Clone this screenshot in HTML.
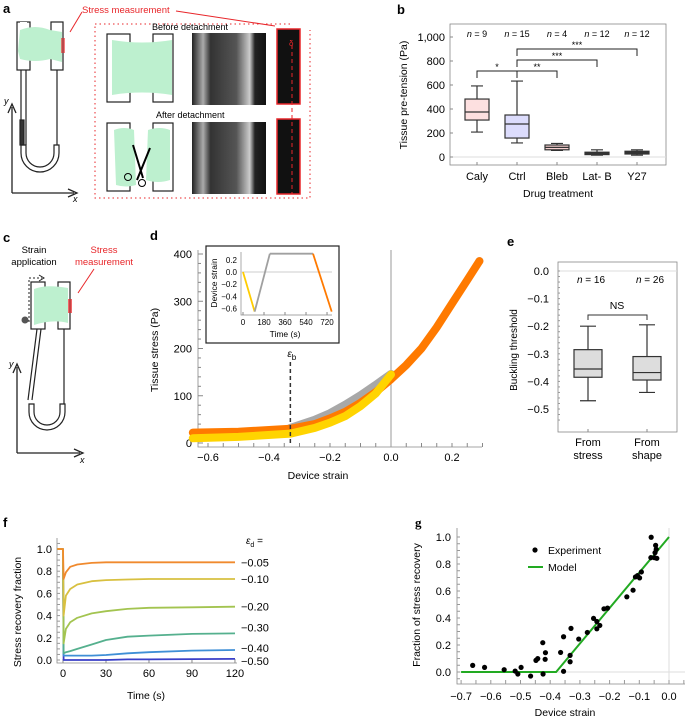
<!DOCTYPE html>
<html><head><meta charset="utf-8"><style>
html,body{margin:0;padding:0;background:#fff}
svg{display:block;font-family:"Liberation Sans",sans-serif}
</style></head><body>
<svg id="fig" width="685" height="718" viewBox="0 0 685 718">
<defs>
<linearGradient id="photo" x1="0" x2="1"><stop offset="0" stop-color="#222"/><stop offset="0.15" stop-color="#aaa"/><stop offset="0.25" stop-color="#333"/><stop offset="0.6" stop-color="#555"/><stop offset="0.78" stop-color="#ccc"/><stop offset="0.85" stop-color="#222"/><stop offset="1" stop-color="#111"/></linearGradient>
</defs>
<!-- Panel a -->
<g>
<text x="3" y="13" font-weight="bold" font-size="13">a</text>
<text x="82" y="13" font-size="9.5" fill="#e8262a">Stress measurement</text>
<line x1="176" y1="11" x2="275" y2="26" stroke="#e8262a" stroke-width="1"/>
<line x1="82" y1="12" x2="70" y2="32" stroke="#e8262a" stroke-width="1"/>
<g fill="none" stroke="#222" stroke-width="1.2">
<rect x="17" y="22" width="13" height="48"/><rect x="51" y="22" width="12" height="48"/>
<path d="M20 22 h7 v8 h-7z" fill="#fff" stroke="none"/>
<line x1="21" y1="70" x2="21" y2="145"/><line x1="26" y1="70" x2="26" y2="145"/><line x1="57" y1="70" x2="57" y2="145"/>
<rect x="20" y="120" width="4" height="25" fill="#333"/>
<path d="M21 145 v8 a19 19 0 0 0 38 0 v-8 h-5 v8 a14 14 0 0 1 -28 0 v-8z"/>
</g>
<path d="M20 30 q15 -6 30 0 l12 2 v30 l-12 -3 q-15 4 -30 0 l-2 -8z" fill="#bdf0cf"/>
<rect x="61" y="38" width="4" height="15" fill="#e8262a" opacity="0.6"/>
<path d="M12 193 V107 M8 113 L12 104 L16 113 M12 193 H74 M68 189 L77 193 L68 197" fill="none" stroke="#222" stroke-width="1.3"/>
<text x="4" y="104" font-size="9" font-style="italic">y</text>
<text x="73" y="202" font-size="9" font-style="italic">x</text>
<rect x="95" y="24" width="215" height="174" fill="none" stroke="#e8262a" stroke-dasharray="1.5,3"/>
<rect x="290" y="20" width="22" height="10" fill="#fff"/>
<text x="152" y="30" font-size="9">Before detachment</text>
<text x="156" y="118" font-size="9">After detachment</text>
<g fill="none" stroke="#222" stroke-width="1.2">
<rect x="107" y="34" width="23" height="68"/><rect x="153" y="34" width="20" height="68"/>
<rect x="107" y="123" width="23" height="68"/><rect x="153" y="123" width="20" height="68"/>
</g>
<path d="M112 40 q30 5 60 0 v55 q-30 -5 -60 0z" fill="#bdf0cf"/>
<path d="M114 130 q10 -4 20 0 l2 55 q-10 3 -20 0z M148 130 q12 -4 22 0 v50 q-12 4 -24 0z" fill="#bdf0cf"/>
<path d="M133 145 L143 178 M150 148 L137 180" stroke="#000" stroke-width="2"/>
<circle cx="128" cy="177" r="3.5" fill="none" stroke="#000"/><circle cx="142" cy="183" r="3.5" fill="none" stroke="#000"/>
<rect x="192" y="33" width="74" height="72" fill="url(#photo)"/>
<rect x="192" y="122" width="74" height="72" fill="url(#photo)"/>
<rect x="277" y="29" width="23" height="75" fill="#111" stroke="#e8262a" stroke-width="1.5"/>
<rect x="277" y="119" width="23" height="75" fill="#111" stroke="#e8262a" stroke-width="1.5"/>
<line x1="292" y1="45" x2="292" y2="194" stroke="#e8262a" stroke-dasharray="4,3"/>
<text x="289" y="46" font-size="8" fill="#e8262a">δ</text>
</g>

<!-- Panel b -->
<g>
<text x="397" y="14" font-weight="bold" font-size="13">b</text>
<rect x="450" y="24" width="216" height="141" fill="none" stroke="#888" stroke-width="0.8"/>
<line x1="450" y1="157" x2="666" y2="157" stroke="#ddd"/>
<text transform="translate(407,95) rotate(-90)" text-anchor="middle" font-size="10.5">Tissue pre-tension (Pa)</text>
<text x="558" y="197" text-anchor="middle" font-size="10.5">Drug treatment</text>
<g id="gb"></g>
</g>

<!-- Panel c -->
<g>
<text x="3" y="242" font-weight="bold" font-size="13">c</text>
<text x="34" y="253" text-anchor="middle" font-size="9.5"><tspan x="34">Strain</tspan><tspan x="34" dy="12">application</tspan></text>
<text x="104" y="253" text-anchor="middle" font-size="9.5" fill="#e8262a"><tspan x="104">Stress</tspan><tspan x="104" dy="12">measurement</tspan></text>
<line x1="94" y1="269" x2="78" y2="293" stroke="#e8262a"/>
<path d="M29 322 V278 H42" fill="none" stroke="#222" stroke-dasharray="2,2"/>
<path d="M39 275 L44 278 L39 281" fill="none" stroke="#222"/>
<g fill="none" stroke="#222" stroke-width="1.2">
<rect x="31" y="282" width="14" height="47"/><rect x="58" y="282" width="12" height="47"/>
<path d="M37 329 L28 400 M41 329 L32 400 M64 329 V404"/>
<path d="M29 404 v8 a18 18 0 0 0 36 0 v-8 h-5 v8 a13 13 0 0 1 -26 0 v-8z"/>
</g>
<path d="M34 289 q12 -5 34 -1 v35 q-15 -4 -34 2z" fill="#bdf0cf"/>
<rect x="68" y="299" width="4" height="14" fill="#e8262a" opacity="0.7"/>
<circle cx="25" cy="320" r="3.5" fill="#555"/>
<path d="M17 453 V367 M13 373 L17 364 L21 373 M17 453 H80 M74 449 L83 453 L74 457" fill="none" stroke="#222" stroke-width="1.3"/>
<text x="9" y="367" font-size="9" font-style="italic">y</text>
<text x="80" y="463" font-size="9" font-style="italic">x</text>
</g>

<!-- Panel d -->
<g>
<text x="150" y="240" font-weight="bold" font-size="13">d</text>
<text transform="translate(158,350) rotate(-90)" text-anchor="middle" font-size="10.5">Tissue stress (Pa)</text>
<text x="318" y="479" text-anchor="middle" font-size="10.5">Device strain</text>
<g id="gd"></g>
</g>

<!-- Panel e -->
<g>
<text x="507" y="246" font-weight="bold" font-size="13">e</text>
<rect x="558" y="262" width="119" height="170" fill="none" stroke="#888" stroke-width="0.8"/>
<text transform="translate(517,350) rotate(-90)" text-anchor="middle" font-size="10">Buckling threshold</text>
<g id="ge"></g>
</g>

<!-- Panel f -->
<g>
<text x="3" y="527" font-weight="bold" font-size="13">f</text>
<text transform="translate(21,612) rotate(-90)" text-anchor="middle" font-size="10.5">Stress recovery fraction</text>
<text x="146" y="699" text-anchor="middle" font-size="10.5">Time (s)</text>
<text x="246" y="544" font-size="10"><tspan font-style="italic">ε</tspan><tspan font-size="7" dy="3">d</tspan><tspan dy="-3"> =</tspan></text>
<g id="gf"></g>
</g>

<!-- Panel g -->
<g>
<text x="415" y="527" font-weight="bold" font-size="13" font-family="Liberation Serif,serif">g</text>
<text transform="translate(420,605) rotate(-90)" text-anchor="middle" font-size="10.5">Fraction of stress recovery</text>
<text x="565" y="716" text-anchor="middle" font-size="10.5">Device strain</text>
<circle cx="535" cy="550" r="2.6" fill="#000"/>
<text x="548" y="554" font-size="10.5">Experiment</text>
<line x1="528" y1="567" x2="543" y2="567" stroke="#22aa22" stroke-width="2"/>
<text x="548" y="571" font-size="10.5">Model</text>
<g id="gg"></g>
</g>
</svg>
<script>
// ---- Panel b data ----
const bCats = ['Caly','Ctrl','Bleb','Lat- B','Y27'];
const bN = ['9','15','4','12','12'];
const bWhiskLo = [208,117,55,15,15];
const bQ1 = [308,158,60,20,25];
const bMed = [375,275,80,30,40];
const bQ3 = [483,350,100,40,48];
const bWhiskHi = [592,633,113,60,60];
const bTicks = [0,200,400,600,800,1000];
const bTickLabels = ['0','200','400','600','800','1,000'];
// ---- Panel d data ----
const dOrangeX = [-0.65,-0.5,-0.33,-0.25,-0.2,-0.15,-0.1,-0.05,0,0.05,0.1,0.15,0.2,0.25,0.29];
const dOrangeY = [22,24,30,40,52,66,85,108,135,165,200,245,295,345,385];
const dYellowX = [-0.65,-0.5,-0.33,-0.25,-0.2,-0.15,-0.1,-0.05,0];
const dYellowY = [10,13,20,32,43,57,78,105,145];
const dGrayX = [-0.33,-0.25,-0.2,-0.15,-0.1,-0.05,0];
const dGrayY = [31,48,62,80,100,122,145];
const dBuckle = -0.33;
const dXTicks = [-0.6,-0.4,-0.2,0,0.2];
const dXTickLabels = ['−0.6','−0.4','−0.2','0.0','0.2'];
const dYTicks = [0,100,200,300,400];
const inTime = [0,100,230,600,760];
const inStrain = [0,-0.65,0.3,0.3,-0.65];
const inXTicks = [0,180,360,540,720];
const inYTicks = [0.2,0,-0.2,-0.4,-0.6];
const inYTickLabels = ['0.2','0.0','−0.2','−0.4','−0.6'];
// ---- Panel e data ----
const eCats = ['From|stress','From|shape'];
const eN = ['16','26'];
const eWhiskLo = [-0.47,-0.44];
const eQ1 = [-0.385,-0.395];
const eMed = [-0.355,-0.368];
const eQ3 = [-0.285,-0.31];
const eWhiskHi = [-0.2,-0.195];
const eTicks = [0,-0.1,-0.2,-0.3,-0.4,-0.5];
const eTickLabels = ['0.0','−0.1','−0.2','−0.3','−0.4','−0.5'];
// ---- Panel f data ----
const fTime = [-4,0,0.4,2,5,10,20,30,45,60,90,120];
const fS1 = [1,1,0.73,0.79,0.84,0.86,0.875,0.88,0.88,0.88,0.88,0.88];
const fS2 = [1,1,0.40,0.58,0.64,0.68,0.71,0.72,0.725,0.73,0.73,0.73];
const fS3 = [1,1,0.15,0.28,0.34,0.38,0.42,0.44,0.46,0.47,0.475,0.48];
const fS4 = [1,1,0.06,0.07,0.08,0.10,0.14,0.18,0.21,0.22,0.235,0.24];
const fS5 = [1,1,0.04,0.04,0.04,0.04,0.04,0.045,0.06,0.07,0.085,0.09];
const fS6 = [1,1,0.0,0.0,0.0,0.0,0.0,0.0,0.005,0.005,0.008,0.01];
const fSeries = [fS1,fS2,fS3,fS4,fS5,fS6];
const fLabels = ['−0.05','−0.10','−0.20','−0.30','−0.40','−0.50'];
const fColors = ['#f08a2e','#d8c040','#a3c450','#55b08e','#3f8fd6','#3a3fc8'];
const fXTicks = [0,30,60,90,120];
const fYTicks = [0,0.2,0.4,0.6,0.8,1.0];
const fYTickLabels = ['0.0','0.2','0.4','0.6','0.8','1.0'];
// ---- Panel g data ----
const gX = [-0.661,-0.621,-0.555,-0.518,-0.509,-0.498,-0.466,-0.448,-0.442,-0.425,-0.416,-0.417,-0.424,-0.365,-0.355,-0.355,-0.333,-0.333,-0.330,-0.304,-0.275,-0.254,-0.243,-0.243,-0.233,-0.219,-0.207,-0.142,-0.121,-0.113,-0.106,-0.099,-0.093,-0.060,-0.061,-0.049,-0.047,-0.045,-0.043,-0.041];
const gY = [0.049,0.034,0.017,0.007,-0.015,0.034,-0.030,0.086,0.099,0.217,0.143,0.094,-0.015,0.145,0.261,0.005,0.076,0.123,0.323,0.244,0.293,0.397,0.374,0.320,0.345,0.468,0.473,0.557,0.606,0.704,0.714,0.697,0.741,0.998,0.847,0.847,0.884,0.938,0.909,0.842];
const gModelX = [-0.7,-0.38,0];
const gModelY = [0,0,1];
const gXTicks = [-0.7,-0.6,-0.5,-0.4,-0.3,-0.2,-0.1,0];
const gXTickLabels = ['−0.7','−0.6','−0.5','−0.4','−0.3','−0.2','−0.1','0.0'];
const gYTicks = [0,0.2,0.4,0.6,0.8,1.0];
const gYTickLabels = ['0.0','0.2','0.4','0.6','0.8','1.0'];

const NS='http://www.w3.org/2000/svg';
function mk(tag, attrs, parent){const e=document.createElementNS(NS,tag);for(const k in attrs)e.setAttribute(k,attrs[k]);parent.appendChild(e);return e;}
function txt(s,attrs,parent){const e=mk('text',attrs,parent);e.textContent=s;return e;}
function poly(xs,ys,fx,fy){return xs.map((x,i)=>fx(x).toFixed(1)+','+fy(ys[i]).toFixed(1)).join(' ');}

// ===== Panel b =====
(function(){
const g=document.getElementById('gb');
const yB=v=>157-v*0.12, xB=i=>477+i*40;
bTicks.forEach((t,i)=>{
 const l=mk('line',{x1:450,x2:453,y1:yB(t),y2:yB(t),stroke:'#888'},g);
 
 
 const tx=txt(bTickLabels[i],{x:445,y:yB(t)+4,'text-anchor':'end','font-size':11},g);
 
 
});
const fills=['#fde0e0','#dcdcfc','#f6d0d0','#333','#333'];
bCats.forEach((c,i)=>{
 const x=xB(i);
 const w=mk('path',{d:`M${x} ${yB(bWhiskHi[i])}V${yB(bQ3[i])}M${x} ${yB(bQ1[i])}V${yB(bWhiskLo[i])}M${x-6} ${yB(bWhiskHi[i])}h12M${x-6} ${yB(bWhiskLo[i])}h12`,stroke:'#333','stroke-width':1.2,fill:'none'},g);
 
 
 const b=mk('rect',{x:x-12,y:yB(bQ3[i]),width:24,height:Math.max(2,yB(bQ1[i])-yB(bQ3[i])),fill:fills[i],stroke:'#333','stroke-width':1.2},g);
 
 
 const m=mk('line',{x1:x-12,x2:x+12,y1:yB(bMed[i]),y2:yB(bMed[i]),stroke:'#333','stroke-width':1.2},g);
 
 
 const tk=mk('line',{x1:x,x2:x,y1:162,y2:165,stroke:'#888'},g);
 
 
 const lb=txt(c,{x:x,y:180,'text-anchor':'middle','font-size':11},g);
 
 
 const n=mk('text',{x:x,y:37,'text-anchor':'middle','font-size':9},g);
 n.innerHTML='<tspan font-style="italic">n</tspan> = '+bN[i];
 
 
});
const brackets=[[0,1,71,'*'],[1,2,71,'**'],[1,3,60,'***'],[1,4,49,'***']];
brackets.forEach(bk=>{
 const x1=xB(bk[0]),x2=xB(bk[1]);
 const p=mk('path',{d:`M${x1} ${bk[2]+7}V${bk[2]}H${x2}V${bk[2]+7}`,stroke:'#222',fill:'none','stroke-width':1},g);
 
 
 const s=txt(bk[3],{x:(x1+x2)/2,y:bk[2]-1,'text-anchor':'middle','font-size':9},g);
 
 
});
})();

// ===== Panel d =====
(function(){
const g=document.getElementById('gd');
const xD=s=>391+s*305, yD=v=>443-v*0.4725;
const ax=mk('path',{d:'M198 250V447H482',fill:'none',stroke:'#888','stroke-width':0.8},g);


for(let v=0;v<=400;v+=20){const l=mk('line',{x1:198,x2:v%100?201:203,y1:yD(v),y2:yD(v),stroke:'#888'},g);}
dYTicks.forEach(t=>{const tx=txt(String(t),{x:192,y:yD(t)+4,'text-anchor':'end','font-size':11},g);});
for(let s=-0.6;s<=0.31;s+=0.05){const l=mk('line',{x1:xD(s),x2:xD(s),y1:447,y2:443,stroke:'#888'},g);}
dXTicks.forEach((t,i)=>{const tx=txt(dXTickLabels[i],{x:xD(t),y:461,'text-anchor':'middle','font-size':11},g);});
const vz=mk('line',{x1:xD(0),x2:xD(0),y1:250,y2:447,stroke:'#999'},g);


const gr=mk('polyline',{points:poly(dGrayX,dGrayY,xD,yD),fill:'none',stroke:'#a8a8a8','stroke-width':9,'stroke-linecap':'round'},g);


const gt=mk('circle',{cx:xD(0.29),cy:yD(385),r:4,fill:'#aaa'},g);


const or=mk('polyline',{points:poly(dOrangeX,dOrangeY,xD,yD),fill:'none',stroke:'#ff7a00','stroke-width':8,'stroke-linecap':'round'},g);


const ye=mk('polyline',{points:poly(dYellowX,dYellowY,xD,yD),fill:'none',stroke:'#ffd400','stroke-width':8,'stroke-linecap':'round'},g);


const db=mk('line',{x1:xD(dBuckle),x2:xD(dBuckle),y1:362,y2:443,stroke:'#333','stroke-width':1.5,'stroke-dasharray':'4,3'},g);


const eb=mk('text',{x:xD(dBuckle)-3,y:357,'font-size':10},g);
eb.innerHTML='<tspan font-style="italic">ε</tspan><tspan font-size="8" dy="3">b</tspan>';


// inset
const ib=mk('rect',{x:206,y:246,width:133,height:97,fill:'#fff',stroke:'#222','stroke-width':1.2},g);


const xI=t=>243+t*0.1167, yI=s=>272-s*61;
const ia=mk('path',{d:`M241 252V315H332`,fill:'none',stroke:'#888','stroke-width':0.7},g);


const iz=mk('line',{x1:241,x2:332,y1:yI(0),y2:yI(0),stroke:'#ccc'},g);


inYTicks.forEach((t,i)=>{const tx=txt(inYTickLabels[i],{x:237,y:yI(t)+3,'text-anchor':'end','font-size':8},g);});
inXTicks.forEach(t=>{const tx=txt(String(t),{x:xI(t),y:325,'text-anchor':'middle','font-size':8},g);
 const l=mk('line',{x1:xI(t),x2:xI(t),y1:315,y2:312,stroke:'#888'},g);});
const segCols=['#ffcc00','#a0a0a0','#a0a0a0','#ff7a00'];
for(let i=0;i<inTime.length-1;i++){
 const s=mk('line',{x1:xI(inTime[i]),y1:yI(inStrain[i]),x2:xI(inTime[i+1]),y2:yI(inStrain[i+1]),stroke:segCols[i],'stroke-width':1.8},g);
 
 
}
const it=txt('Time (s)',{x:285,y:337,'text-anchor':'middle','font-size':8.5},g);


const iy=txt('Device strain',{transform:'translate(217,283) rotate(-90)','text-anchor':'middle','font-size':8.5},g);


})();

// ===== Panel e =====
(function(){
const g=document.getElementById('ge');
const yE=v=>271-v*276, xs=[588,647];
const zl=mk('line',{x1:558,x2:677,y1:yE(0),y2:yE(0),stroke:'#ddd'},g);


for(let v=0;v>=-0.55;v-=0.02){const l=mk('line',{x1:558,x2:560,y1:yE(v),y2:yE(v),stroke:'#999'},g);}
eTicks.forEach((t,i)=>{const tx=txt(eTickLabels[i],{x:549,y:yE(t)+4,'text-anchor':'end','font-size':11},g);});
eCats.forEach((c,i)=>{
 const x=xs[i];
 const w=mk('path',{d:`M${x} ${yE(eWhiskHi[i])}V${yE(eQ3[i])}M${x} ${yE(eQ1[i])}V${yE(eWhiskLo[i])}M${x-8} ${yE(eWhiskHi[i])}h16M${x-8} ${yE(eWhiskLo[i])}h16`,stroke:'#333','stroke-width':1.2,fill:'none'},g);
 
 
 const b=mk('rect',{x:x-14,y:yE(eQ3[i]),width:28,height:yE(eQ1[i])-yE(eQ3[i]),fill:'#ddd',stroke:'#333','stroke-width':1.2},g);
 
 
 const m=mk('line',{x1:x-14,x2:x+14,y1:yE(eMed[i]),y2:yE(eMed[i]),stroke:'#333','stroke-width':1.2},g);
 
 
 const tk=mk('line',{x1:x,x2:x,y1:429,y2:432,stroke:'#888'},g);
 
 
 const p=c.split('|');
 const l1=txt(p[0],{x:x,y:446,'text-anchor':'middle','font-size':11},g);
 
 
 const l2=txt(p[1],{x:x,y:459,'text-anchor':'middle','font-size':11},g);
 
 
 const n=mk('text',{x:x+3,y:283,'text-anchor':'middle','font-size':10},g);
 n.innerHTML='<tspan font-style="italic">n</tspan> = '+eN[i];
 
 
});
const br=mk('path',{d:`M588 320V315H647V320`,stroke:'#333',fill:'none'},g);


const ns=txt('NS',{x:617,y:309,'text-anchor':'middle','font-size':10.5},g);


})();

// ===== Panel f =====
(function(){
const g=document.getElementById('gf');
const xF=t=>63+t*1.433, yF=v=>660-v*111;
const ax=mk('path',{d:'M57 538V663H237',fill:'none',stroke:'#888','stroke-width':0.8},g);


for(let v=0;v<=1.1;v+=0.05){const l=mk('line',{x1:57,x2:60,y1:yF(v),y2:yF(v),stroke:'#999'},g);}
fYTicks.forEach((t,i)=>{const tx=txt(fYTickLabels[i],{x:52,y:yF(t)+4,'text-anchor':'end','font-size':11},g);});
fXTicks.forEach(t=>{const l=mk('line',{x1:xF(t),x2:xF(t),y1:663,y2:659,stroke:'#888'},g);
 const tx=txt(String(t),{x:xF(t),y:677,'text-anchor':'middle','font-size':11},g);});
for(let i=fSeries.length-1;i>=0;i--){
 const s=fSeries[i];
 const p=mk('polyline',{points:poly(fTime,s,xF,yF),fill:'none',stroke:fColors[i],'stroke-width':1.8,'stroke-linejoin':'round'},g);
 
 
 const last=s[s.length-1];
 const offs=[0,0,0,-6,-2,2];
 const tx=txt(fLabels[i],{x:241,y:yF(last)+4+offs[i],'font-size':11},g);
 
 
}
})();

// ===== Panel g =====
(function(){
const g=document.getElementById('gg');
const xG=s=>669+s*297, yG=v=>672-v*135;
const ax=mk('path',{d:'M457 528V684H685',fill:'none',stroke:'#888','stroke-width':0.8},g);


const zx=mk('line',{x1:xG(0),x2:xG(0),y1:528,y2:684,stroke:'#ddd'},g);


const zy=mk('line',{x1:457,x2:685,y1:yG(0),y2:yG(0),stroke:'#ddd'},g);


for(let v=-0.05;v<=1.05;v+=0.05){const l=mk('line',{x1:457,x2:460,y1:yG(v),y2:yG(v),stroke:'#999'},g);}
for(let s=-0.7;s<=0.06;s+=0.05){const l=mk('line',{x1:xG(s),x2:xG(s),y1:684,y2:680,stroke:'#999'},g);}
gYTicks.forEach((t,i)=>{const tx=txt(gYTickLabels[i],{x:451,y:yG(t)+4,'text-anchor':'end','font-size':11},g);});
gXTicks.forEach((t,i)=>{const tx=txt(gXTickLabels[i],{x:xG(t),y:700,'text-anchor':'middle','font-size':11},g);});
const m=mk('polyline',{points:poly(gModelX,gModelY,xG,yG),fill:'none',stroke:'#22aa22','stroke-width':2},g);


gX.forEach((x,i)=>{
 const c=mk('circle',{cx:xG(x),cy:yG(gY[i]),r:2.6,fill:'#000'},g);
 
 
});
})();
</script>
</body></html>
